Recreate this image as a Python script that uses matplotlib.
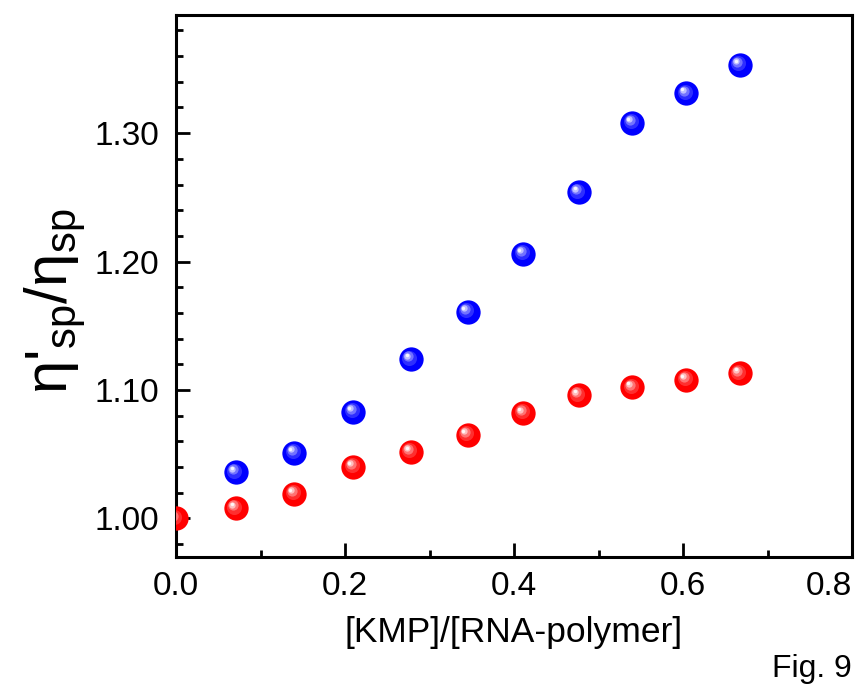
import numpy as np
import matplotlib
matplotlib.use("Agg")
import matplotlib.pyplot as plt
from matplotlib.ticker import MultipleLocator, FormatStrFormatter
from matplotlib.transforms import offset_copy
from matplotlib.colors import to_rgb

plt.rcParams["font.family"] = ["Liberation Sans", "DejaVu Sans"]
plt.rcParams["mathtext.fontset"] = "custom"
plt.rcParams["mathtext.rm"] = "Liberation Sans"
plt.rcParams["mathtext.it"] = "Liberation Sans"

# [KMP]/[RNA-polymer] ratios
ratio = [0.000, 0.071, 0.140, 0.210, 0.278, 0.345, 0.411, 0.477, 0.540, 0.604, 0.667]
# relative specific viscosity, two series
visc_red = [1.000, 1.008, 1.019, 1.040, 1.052, 1.065, 1.082, 1.096, 1.102, 1.108, 1.113]
visc_blue = [1.036, 1.051, 1.083, 1.124, 1.161, 1.206, 1.254, 1.308, 1.331, 1.353]
ratio_blue = ratio[1:]

xticks = [0.0, 0.2, 0.4, 0.6, 0.8]

fig = plt.figure(figsize=(8.63, 6.90), dpi=100)
ax = fig.add_axes([176 / 863, 133 / 690, 676 / 863, 542 / 690])


def ball(ax, x, y, color, ms=17.5):
    # flat disc plus a few lighter discs shifted up-left for a glossy look
    ax.plot(x, y, "o", ms=ms, color=color, mew=0, zorder=3)
    base = np.array(to_rgb(color))
    layers = [(0.62, 0.18, -1.2), (0.42, 0.45, -2.0), (0.26, 0.75, -2.6), (0.14, 0.97, -2.9)]
    for frac, white, off in layers:
        c = base * (1 - white) + white
        tr = offset_copy(ax.transData, fig=fig, x=off, y=-off, units="points")
        ax.plot(x, y, "o", ms=ms * frac, color=c, mew=0, zorder=4, transform=tr)


ball(ax, ratio_blue, visc_blue, "#0000ff")
ball(ax, ratio, visc_red, "#ff0000")

ax.set_xlim(0, 0.8)
ax.set_ylim(0.970, 1.392)

ax.set_xticks(xticks)
ax.xaxis.set_minor_locator(MultipleLocator(0.1))
ax.yaxis.set_major_locator(MultipleLocator(0.1))
ax.yaxis.set_minor_locator(MultipleLocator(0.02))
ax.xaxis.set_major_formatter(FormatStrFormatter("%.1f"))
ax.yaxis.set_major_formatter(FormatStrFormatter("%.2f"))

ax.tick_params(which="both", direction="in", top=False, right=False, width=2, labelsize=24)
ax.tick_params(which="major", length=10)
ax.tick_params(which="minor", length=5)
ax.tick_params(axis="x", pad=10)
ax.tick_params(axis="y", pad=12)
for sp in ax.spines.values():
    sp.set_linewidth(2.2)

# last x label sits flush against the right edge
ax.get_xticklabels()[-1].set_horizontalalignment("right")

ax.set_xlabel("[KMP]/[RNA-polymer]", fontsize=25.5, labelpad=10)
ax.set_ylabel("η'$_{\\rm sp}$/η$_{\\rm sp}$", fontsize=43)
ax.yaxis.set_label_coords(-0.13, 0.472)

fig.text(852 / 863, 1 - 677 / 690, "Fig. 9", fontsize=23, ha="right", va="baseline")

fig.savefig("out.png", dpi=100, facecolor="white")
